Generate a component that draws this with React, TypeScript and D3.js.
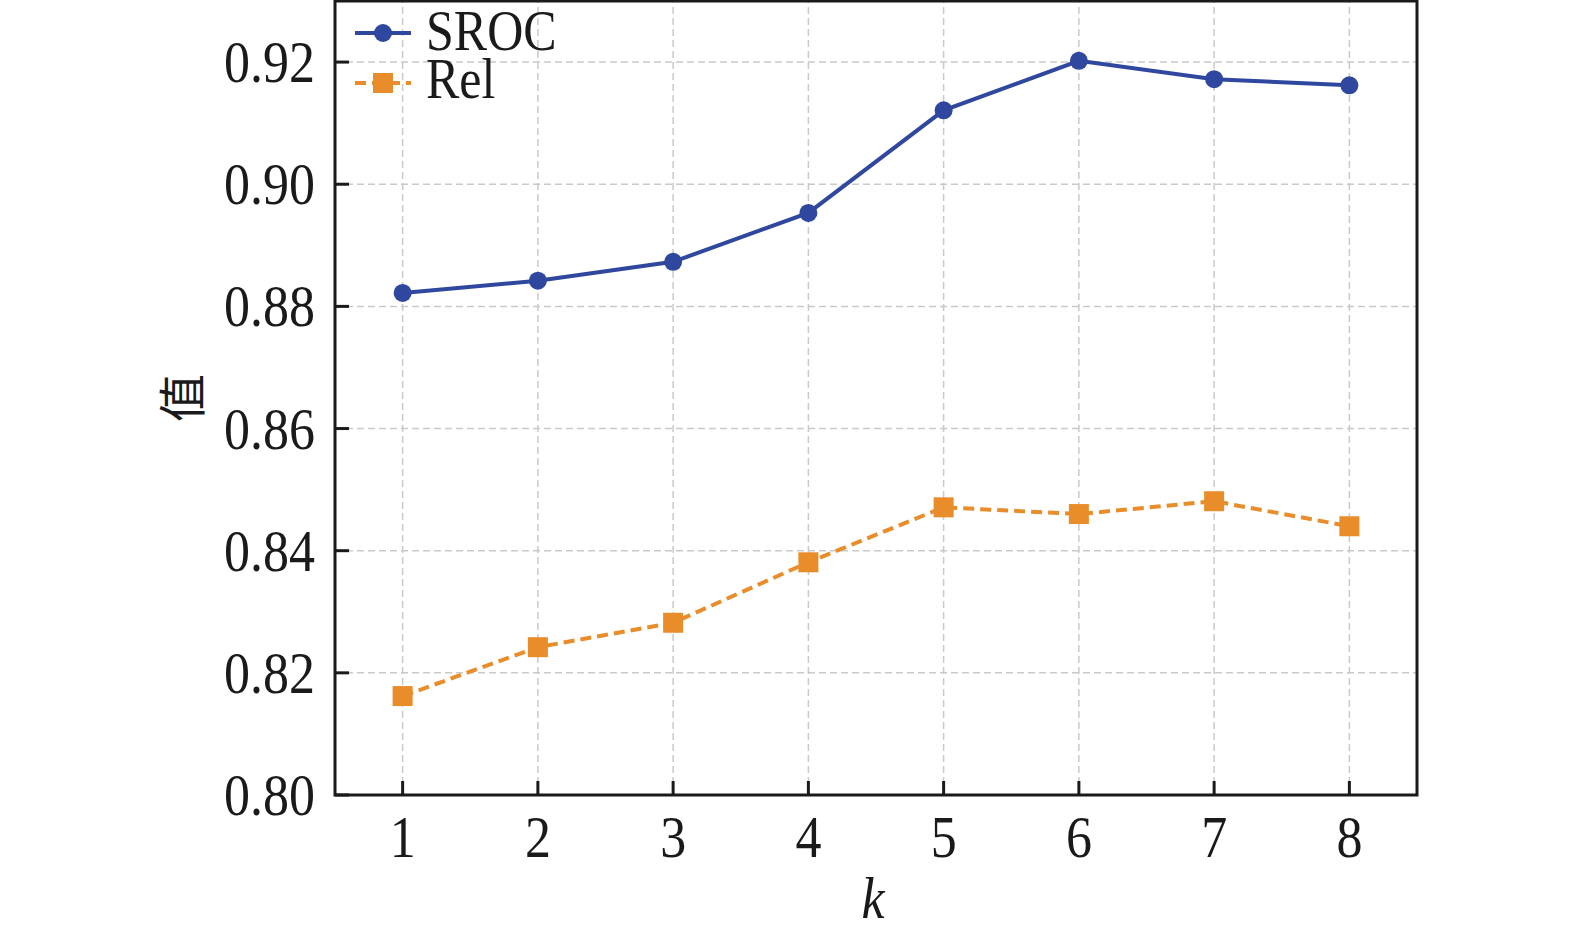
import React from 'react';
import * as d3 from 'd3';

const ks = [1, 2, 3, 4, 5, 6, 7, 8];
const sroc = [0.8822, 0.8842, 0.8873, 0.8953, 0.9121, 0.9202, 0.9172, 0.9162];
const rel = [0.8162, 0.8242, 0.8282, 0.8381, 0.8471, 0.8460, 0.8481, 0.8440];
const yTicks = [0.8, 0.82, 0.84, 0.86, 0.88, 0.9, 0.92];

const W = 1575, H = 941;
const margin = { left: 335, right: 158, top: 1, bottom: 146 };
const blue = '#2f479e';
const orange = '#e98d2b';
const ink = '#1a1a1a';
const font = '"Liberation Serif", "Times New Roman", serif';
const stretch = 1.15;

// text with the tall, narrow look of the original
function T(props: { x: number, y: number, anchor?: string, size?: number, italic?: boolean, sy?: number, children: any }) {
  return (
    <text
      transform={`translate(${props.x},${props.y}) scale(1,${props.sy || stretch})`}
      textAnchor={props.anchor || 'start'}
      fontFamily={font}
      fontStyle={props.italic ? 'italic' : 'normal'}
      fontSize={props.size || 52}
      fill={ink}
    >
      {props.children}
    </text>
  );
}

export default function App() {
  const x = d3.scaleLinear().domain([0.5, 8.5]).range([margin.left, W - margin.right]);
  const y = d3.scaleLinear().domain([0.8, 0.93]).range([H - margin.bottom, margin.top]);
  const line = d3.line<number>().x((d, i) => x(ks[i])).y(d => y(d));
  const x0 = x.range()[0], x1 = x.range()[1];
  const y0 = y.range()[0], y1 = y.range()[1];

  return (
    <svg width={W} height={H} style={{ position: 'absolute', left: 0, top: 0, background: '#fff' }}>
      {/* grid */}
      {ks.map(k => (
        <line key={'gx' + k} x1={x(k)} x2={x(k)} y1={y0} y2={y1} stroke="#c9c9c9" strokeWidth={1.5} strokeDasharray="7,4" />
      ))}
      {yTicks.map(t => (
        <line key={'gy' + t} x1={x0} x2={x1} y1={y(t)} y2={y(t)} stroke="#c9c9c9" strokeWidth={1.5} strokeDasharray="7,4" />
      ))}
      {/* series */}
      <path d={line(sroc) || ''} fill="none" stroke={blue} strokeWidth={4} />
      {sroc.map((v, i) => (
        <circle key={'s' + i} cx={x(ks[i])} cy={y(v)} r={9} fill={blue} />
      ))}
      <path d={line(rel) || ''} fill="none" stroke={orange} strokeWidth={4} strokeDasharray="11,6" />
      {rel.map((v, i) => (
        <rect key={'r' + i} x={x(ks[i]) - 10} y={y(v) - 10} width={20} height={20} fill={orange} />
      ))}
      {/* frame and ticks */}
      <rect x={x0} y={y1} width={x1 - x0} height={y0 - y1} fill="none" stroke={ink} strokeWidth={3} />
      {ks.map(k => (
        <line key={'tx' + k} x1={x(k)} x2={x(k)} y1={y0} y2={y0 - 14} stroke={ink} strokeWidth={3} />
      ))}
      {yTicks.map(t => (
        <line key={'ty' + t} x1={x0} x2={x0 + 14} y1={y(t)} y2={y(t)} stroke={ink} strokeWidth={3} />
      ))}
      {/* tick labels */}
      {ks.map(k => (
        <T key={'lx' + k} x={x(k)} y={y0 + 62} anchor="middle">{k}</T>
      ))}
      {yTicks.map(t => (
        <T key={'ly' + t} x={x0 - 20} y={y(t) + 20} anchor="end">{t.toFixed(2)}</T>
      ))}
      {/* axis titles */}
      <T x={873} y={918} anchor="middle" italic>k</T>
      <text transform={`translate(200, ${(y0 + y1) / 2}) rotate(-90)`} textAnchor="middle" fontFamily='"Noto Sans CJK SC", serif' fontSize={48} fill={ink}>值</text>
      {/* legend */}
      <line x1={355} x2={411} y1={33} y2={33} stroke={blue} strokeWidth={4} />
      <circle cx={383} cy={33} r={9} fill={blue} />
      <T x={426} y={50} size={50} sy={1.12}>SROC</T>
      <line x1={355} x2={411} y1={83} y2={83} stroke={orange} strokeWidth={4} strokeDasharray="11,6" />
      <rect x={373} y={73} width={20} height={20} fill={orange} />
      <T x={426} y={98} size={50} sy={1.12}>Rel</T>
    </svg>
  );
}
